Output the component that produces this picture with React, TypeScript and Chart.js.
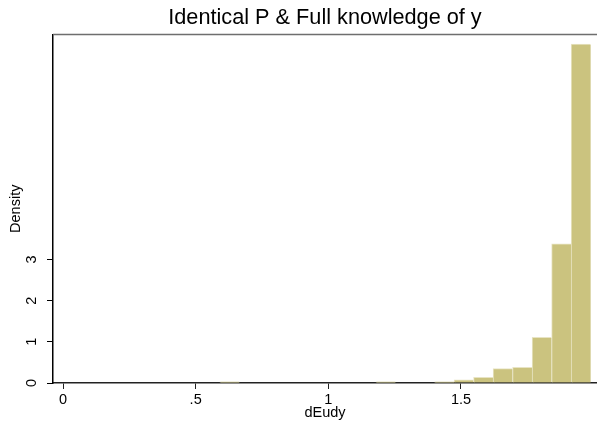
import React, { useEffect, useRef } from "react";
import { Chart, registerables } from "chart.js";

Chart.register(...registerables);

// Histogram bins (Stata-style density histogram of dEudy)
const binStart = 0.003;
const binWidth = 0.07355;
const densities = [
  0, 0, 0, 0, 0, 0, 0, 0, 0.027, 0,
  0, 0, 0, 0, 0, 0, 0.027, 0, 0, 0.027,
  0.075, 0.14, 0.35, 0.38, 1.11, 3.38, 8.23,
];

const xTickValues = [0, 0.5, 1, 1.5];
const xTickLabels = ["0", ".5", "1", "1.5"];
const yTickValues = [0, 1, 2, 3];
const yTickLabels = ["0", "1", "2", "3"];

const titleText = "Identical P & Full knowledge of y";
const xTitle = "dEudy";
const yTitle = "Density";

const FONT = "Arial, 'Liberation Sans', Helvetica, sans-serif";

const topBorder = {
  id: "topBorder",
  afterDraw(chart: any) {
    const { ctx, chartArea } = chart;
    ctx.save();
    ctx.strokeStyle = "#6e6e6e";
    ctx.lineWidth = 1.5;
    ctx.beginPath();
    ctx.moveTo(chartArea.left, chartArea.top);
    ctx.lineTo(chartArea.right, chartArea.top);
    ctx.stroke();
    ctx.restore();
  },
};

export default function App() {
  const ref = useRef<HTMLCanvasElement>(null);

  useEffect(() => {
    document.body.style.margin = "0";
    const canvas = ref.current;
    if (!canvas) return;
    const data = densities.map((d, i) => ({
      x: binStart + (i + 0.5) * binWidth,
      y: d,
    }));
    const chart = new Chart(canvas, {
      type: "bar",
      data: {
        datasets: [
          {
            data,
            backgroundColor: "rgb(203,195,127)",
            borderColor: "rgb(232,228,196)",
            borderWidth: { top: 1, left: 1, right: 0, bottom: 0 } as any,
            borderSkipped: false as any,
            barPercentage: 1,
            categoryPercentage: 1,
          },
        ],
      },
      options: {
        animation: false,
        responsive: false,
        layout: { padding: 0 },
        font: { family: FONT } as any,
        plugins: {
          legend: { display: false },
          tooltip: { enabled: false },
          title: {
            display: true,
            fullSize: false,
            text: titleText,
            color: "#000",
            font: { family: FONT, size: 21.7, weight: "normal" as any },
            padding: { top: 5, bottom: 3.5 },
          },
        },
        scales: {
          x: {
            type: "linear",
            min: -0.0377,
            max: 2.0128,
            offset: false,
            grid: {
              display: true,
              offset: false,
              drawOnChartArea: false,
              drawTicks: true,
              tickLength: 6,
              color: "#222",
              lineWidth: 1,
            },
            border: { display: true, color: "#222", width: 1.5 },
            ticks: {
              color: "#000",
              font: { family: FONT, size: 14.5 },
              padding: 2,
              maxRotation: 0,
              autoSkip: false,
              callback: (v: any) => {
                const i = xTickValues.indexOf(Number(v));
                return i >= 0 ? xTickLabels[i] : "";
              },
            },
            afterBuildTicks: (scale: any) => {
              scale.ticks = xTickValues.map((v) => ({ value: v }));
            },
            afterFit: (scale: any) => {
              scale.height = 45;
              scale.paddingLeft = 0;
              scale.paddingRight = 0;
            },
            title: {
              display: true,
              text: xTitle,
              color: "#000",
              font: { family: FONT, size: 14.5 },
              padding: { top: 0, bottom: 6 },
            },
          },
          y: {
            type: "linear",
            min: 0,
            max: 8.46,
            grid: {
              display: true,
              drawOnChartArea: false,
              drawTicks: true,
              tickLength: 6,
              color: "#000",
              lineWidth: 1,
            },
            border: { display: true, color: "#000", width: 1.5 },
            ticks: {
              color: "#000",
              font: { family: FONT, size: 14.5 },
              padding: 11,
              minRotation: 90,
              maxRotation: 90,
              crossAlign: "center",
              autoSkip: false,
              callback: (v: any) => {
                const i = yTickValues.indexOf(Number(v));
                return i >= 0 ? yTickLabels[i] : "";
              },
            },
            afterBuildTicks: (scale: any) => {
              scale.ticks = yTickValues.map((v) => ({ value: v }));
            },
            afterFit: (scale: any) => {
              scale.width = 53;
              scale.paddingTop = 0;
              scale.paddingBottom = 0;
            },
            title: {
              display: true,
              text: yTitle,
              color: "#000",
              font: { family: FONT, size: 14.5 },
              padding: { top: 7.3, bottom: 0 },
            },
          },
        },
      },
      plugins: [topBorder],
    });
    return () => chart.destroy();
  }, []);

  return (
    <div style={{ width: 597, height: 428 }}>
      <canvas ref={ref} width={597} height={428} />
    </div>
  );
}
